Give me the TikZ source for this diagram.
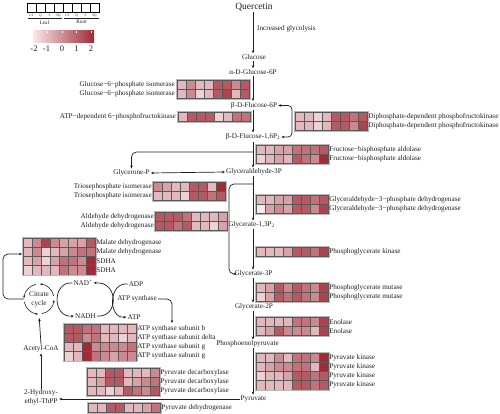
\documentclass[tikz,border=0pt]{standalone}
\usepackage{fontspec}
\setmainfont{Liberation Serif}
\usetikzlibrary{arrows.meta}
\definecolor{hmlo}{RGB}{248,232,235}
\definecolor{hmhi}{RGB}{162,42,54}
\definecolor{txt}{RGB}{30,30,30}
\newcommand\lbf{\fontsize{7.2}{8.5}\selectfont}
\newcommand\hmap[4]{%
  \foreach \rowvals [count=\r from 0] in {#4} {
    \foreach \v [count=\c from 0] in \rowvals {
      \pgfmathtruncatemacro\p{(\v-1)*25}
      \filldraw[fill=hmhi!\p!hmlo, draw=black!65, line width=0.4pt] ({#1+\c*9},{#2+\r*9.2}) rectangle ++(9,9.2);
    }
  }
  \draw[black!28, line width=0.45pt] ({#1-0.9},{#2-0.9}) rectangle ({#1+72.9},{#2+#3*9.2+0.9});
}
\tikzset{
  pw/.style={font=\lbf, inner sep=1pt, text=txt},
  lb/.style={font=\lbf, inner sep=0.5pt, text=txt},
  lbr/.style={lb, anchor=east},
  lbl/.style={lb, anchor=west},
  tip/.tip={Stealth[length=3pt,width=2.6pt]},
  conn/.style={draw=txt, line width=0.7pt},
  arr/.style={conn, -tip},
  arr2/.style={conn, tip-tip},
}
\begin{document}
\begin{tikzpicture}[x=1pt,y=-1pt]
\useasboundingbox (0,0) rectangle (500,414);
% ---------- legend
\foreach \i/\t in {0/CT,1/Q,2/S,3/SQ,4/CT,5/Q,6/S,7/SQ} {
  \draw[black, line width=0.9pt] ({27+\i*9},3) rectangle ++(9,9);
  \node[font=\fontsize{3.4}{4}\selectfont, inner sep=0, text=txt] (lg\i) at ({31.5+\i*9},15.3) {\t};
}
\draw[txt, line width=0.5pt] (27.5,18.3) -- (62,18.3);
\draw[txt, line width=0.5pt] (64,18.3) -- (98.5,18.3);
\node[font=\fontsize{5.2}{6}\selectfont, inner sep=0, text=txt] (leaf) at (44.5,22.3) {Leaf};
\node[font=\fontsize{5.2}{6}\selectfont, inner sep=0, text=txt] (root) at (81.5,22.3) {Root};
\shade[left color=hmlo, right color=hmhi] (33,31) rectangle (94,43);
\foreach \t in {33.5,47.5,62,76.5,91} \draw[white, line width=0.5pt] (\t,31) -- (\t,33);
\foreach \t/\s [count=\k] in {34/-2,46.5/-1,62/0,76.5/1,91/2}
  \node[font=\fontsize{8.5}{9}\selectfont, inner sep=0, text=txt] (cb\k) at (\t,49) {\s};
% ---------- pathway nodes
\coordinate (mx) at (253,0);
\node[pw, font=\fontsize{9.5}{10}\selectfont] (q) at (254,7) {Quercetin};
\node[pw, anchor=west] (incr) at (256,29) {Increased glycolysis};
\node[pw] (glc) at (254,57) {Glucose};
\node[pw] (ag6p) at (253,72) {α-D-Glucose-6P};
\node[pw] (bf6p) at (254,105.5) {β-D-Flucose-6P};
\node[pw] (bf16p) at (253,137) {β-D-Flucose-1,6P\textsubscript{2}};
\node[pw] (gly3p) at (254,172) {Glyceraldehyde-3P};
\node[pw] (gcp) at (131.5,173) {Glycerone-P};
\node[pw] (g13p) at (251.5,225) {Glycerate-1,3P\textsubscript{2}};
\node[pw] (g3p) at (253.5,274) {Glycerate-3P};
\node[pw] (g2p) at (254,307) {Glycerate-2P};
\node[pw] (pep) at (247.5,344) {Phosphoenolpyruvate};
\node[pw] (pyr) at (253.5,399) {Pyruvate};
\node[pw, align=center, font=\fontsize{7.2}{9}\selectfont] (hyd) at (41,397.5) {2-Hydroxy-\\ethyl-ThPP};
\node[pw] (acoa) at (41,349) {Acetyl-CoA};
\node[pw, circle, minimum size=30pt, inner sep=0pt, align=center, font=\fontsize{7.2}{9}\selectfont] (cit) at (39,299) {Citrate\\cycle};
\node[pw] (nad) at (83,283) {NAD\textsuperscript{+}};
\node[pw] (nadh) at (85.5,316) {NADH};
\node[pw] (adp) at (136,284) {ADP};
\node[pw] (atp) at (134,317) {ATP};
\node[pw] (atps) at (137,299) {ATP synthase};
% ---------- main connectors
\draw[arr] (q.south -| mx) -- (glc.north -| mx);
\draw[arr] (glc.south -| mx) -- (ag6p.north -| mx);
\draw[arr] (ag6p.south -| mx) -- (bf6p.north -| mx);
\draw[arr] (bf6p.south -| mx) -- (bf16p.north -| mx);
\draw[arr] (bf16p.south -| mx) -- (gly3p.north -| mx);
\draw[arr] (gly3p.south -| mx) -- (g13p.north -| mx);
\draw[arr] (g13p.south -| mx) -- (g3p.north -| mx);
\draw[arr] (g3p.south -| mx) -- (g2p.north -| mx);
\draw[arr] (g2p.south -| mx) -- (pep.north -| mx);
\draw[arr] (pep.south -| mx) -- (pyr.north -| mx);
\draw[arr2, rounded corners=4pt] (bf6p.east) -- (292,105.5) |- (bf16p.east);
\coordinate (b1) at (253,152);
\draw[arr, rounded corners=5pt] (b1) -| (gcp.north);
\draw[arr2] (gcp.east) -- (gly3p.west);
\coordinate (b2) at (253,184);
\draw[arr, rounded corners=5pt] (b2) -- (229,184) |- (g3p.west);
\draw[arr] (pyr.west) -- (pyr.west -| hyd.east);
\draw[arr] (hyd.north) -- (acoa.south);
\draw[arr, shorten >=4pt] (acoa.north) -- (cit.south);
\foreach \a in {0,90,180,270}
  \draw[conn, line width=0.6pt, -{Stealth[length=2.4pt,width=2.2pt]}] (cit.center) ++(\a+12:15pt) arc[start angle=\a+12, end angle=\a+86, radius=15pt];
\coordinate (mdhin) at (22,254);
\draw[arr, rounded corners=5pt] (cit.west) -- (3,299) |- (mdhin);
\draw[arr] (nad.west) .. controls (52,281) and (52,318) .. (nadh.west);
\draw[arr] (nadh.east) .. controls (119,318) and (119,281) .. (nad.east);
\draw[arr] (adp.west) .. controls (108,282) and (108,319) .. (atp.west);
\coordinate (atpsin) at (172,323);
\draw[arr, rounded corners=5pt] (atps.east) -| (atpsin);
% ---------- heatmaps
\hmap{177}{80}{2}{{2,3,2,2,4,4,3,4},{2,3,1.5,2,4,4.5,2,4}}
\node[lbr] (l1a) at (175.5,84.6) {Glucose−6−phosphate isomerase};
\node[lbr] (l1b) at (175.5,93.8) {Glucose−6−phosphate isomerase};
\hmap{178}{112}{1}{{2,4,4,4,1.5,2,3.5,3.5}}
\node[lbr] (l2a) at (176.5,116.6) {ATP−dependent 6−phosphofructokinase};
\hmap{295}{112}{2}{{2,2,1.5,2,4,4,3.5,4},{2,2,1.5,2,4,4,3,4.5}}
\node[lbl] (l3a) at (367.6,116.6) {Diphosphate-dependent phosphofructokinase};
\node[lbl] (l3b) at (367.6,125.8) {Diphosphate-dependent phosphofructokinase};
\hmap{256}{145}{2}{{2,2,2.5,2.5,3.5,3.5,3.5,4},{1.5,2,2.5,2,4,3.5,3,5}}
\node[lbl] (l4a) at (328.6,149.6) {Fructose−bisphosphate aldolase};
\node[lbl] (l4b) at (328.6,158.8) {Fructose−bisphosphate aldolase};
\hmap{153}{182}{2}{{3,2.5,2,2,4,4,2,5},{2,2,2,1.5,4,4,3.5,4}}
\node[lbr] (l5a) at (152.4,186.6) {Triosephosphate isomerase};
\node[lbr] (l5b) at (152.4,195.8) {Triosephosphate isomerase};
\hmap{155}{212}{2}{{4,4,4,3.5,2,2,2,2.5},{4,4,3.5,4,2,2,1.5,2.5}}
\node[lbr] (l6a) at (154.4,216.6) {Aldehyde dehydrogenase};
\node[lbr] (l6b) at (154.4,225.8) {Aldehyde dehydrogenase};
\hmap{256}{195}{2}{{2,2,2.5,2.5,4,4,3.5,4},{1,2.5,3,2.5,4,4,3,4.5}}
\node[lbl] (l7a) at (328.6,199.6) {Glyceraldehyde−3−phosphate dehydrogenase};
\node[lbl] (l7b) at (328.6,208.8) {Glyceraldehyde−3−phosphate dehydrogenase};
\hmap{256}{247}{1}{{2,2,2,2.5,4,4,3.5,4.5}}
\node[lbl] (l8a) at (328.6,251.6) {Phosphoglycerate kinase};
\hmap{256}{283}{2}{{2,2.5,4,3,4,3.5,3,4.5},{1.5,2.5,4,3.5,4,3.5,3,4.5}}
\node[lbl] (l9a) at (328.6,287.6) {Phosphoglycerate mutase};
\node[lbl] (l9b) at (328.6,296.8) {Phosphoglycerate mutase};
\hmap{256}{317}{2}{{2,2,2,2,3.5,3.5,3,4.5},{2,2.5,4,3,3,3,2,4.5}}
\node[lbl] (l10a) at (328.6,321.6) {Enolase};
\node[lbl] (l10b) at (328.6,330.8) {Enolase};
\hmap{256}{353}{4}{{2,2,3,2,3.5,3.5,3,5},{2,2.5,3,3,3.5,3.5,2,5},{1.5,2,2,2.5,4,4,3.5,4},{2,2,2,2,4,4,3.5,4}}
\node[lbl] (l11a) at (328.6,357.6) {Pyruvate kinase};
\node[lbl] (l11b) at (328.6,366.8) {Pyruvate kinase};
\node[lbl] (l11c) at (328.6,376.0) {Pyruvate kinase};
\node[lbl] (l11d) at (328.6,385.2) {Pyruvate kinase};
\hmap{23}{238}{4}{{2,3,4.5,3,2.5,2.5,2.5,4},{2,3,1.5,2,2.5,3,3.5,3.5},{2,2.5,1.5,2.5,3.5,3.5,3,5},{1.5,2,2,2,3.5,3,3,5}}
\node[lbl] (l12a) at (95.6,242.6) {Malate dehydrogenase};
\node[lbl] (l12b) at (95.6,251.8) {Malate dehydrogenase};
\node[lbl] (l12c) at (95.6,261.0) {SDHA};
\node[lbl] (l12d) at (95.6,270.2) {SDHA};
\hmap{64}{324}{4}{{4,4,3.5,3.5,2,2,2,2},{4,4,3,3.5,2,2,1.5,2},{2,2,5,3,3,3,3,3.5},{1.5,2,5,3.5,3,2.5,3,3}}
\node[lbl] (l13a) at (136.6,328.6) {ATP synthase subunit b};
\node[lbl] (l13b) at (136.6,337.8) {ATP synthase subunit delta};
\node[lbl] (l13c) at (136.6,347.0) {ATP synthase subunit g};
\node[lbl] (l13d) at (136.6,356.2) {ATP synthase subunit g};
\hmap{87}{368}{3}{{2,2,4,4,2,2,2,3},{2,2.5,4,4,2,2.5,3,3.5},{2,2,1.5,2,4,3.5,3,4}}
\node[lbl] (l14a) at (159.6,372.6) {Pyruvate decarboxylase};
\node[lbl] (l14b) at (159.6,381.8) {Pyruvate decarboxylase};
\node[lbl] (l14c) at (159.6,391.0) {Pyruvate decarboxylase};
\hmap{88}{403}{1}{{2,2,4,4,2,2,2.5,3.5}}
\node[lbl] (l15a) at (160.6,407.6) {Pyruvate dehydrogenase};
\end{tikzpicture}
\end{document}
